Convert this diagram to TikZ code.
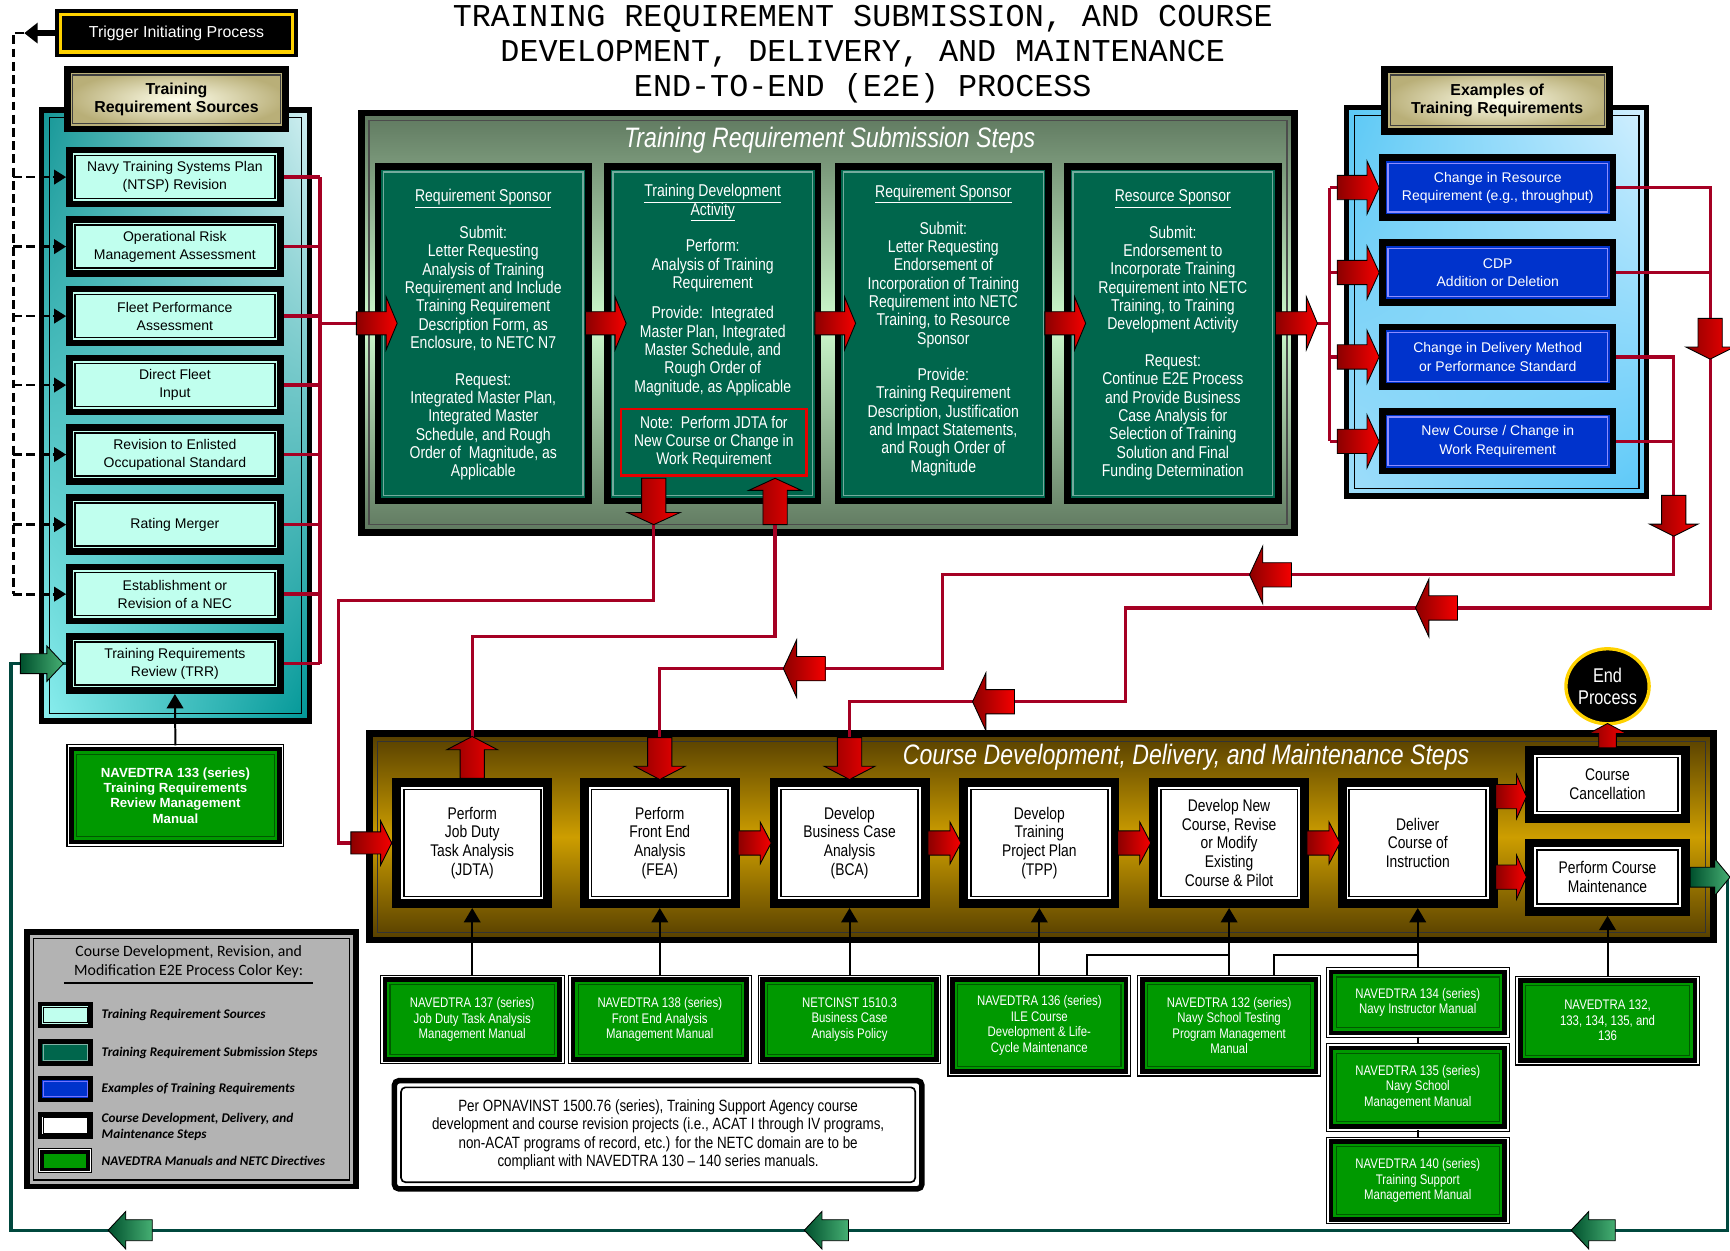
\documentclass[tikz,border=0pt]{standalone}
\usepackage{fontspec}
\usetikzlibrary{shapes.geometric,arrows.meta,calc,shadings}
\newfontfamily\ari{Liberation Sans}
\newfontfamily\nar[FakeStretch=0.82]{Liberation Sans}
\newfontfamily\mono{Liberation Mono}
\newfontfamily\calib{Carlito}
\newcommand\fs[2]{\fontsize{#1}{#2}\selectfont}
\definecolor{srcC}{RGB}{192,255,238}
\definecolor{colG}{RGB}{0,102,76}
\definecolor{blueB}{RGB}{0,51,204}
\definecolor{manG}{RGB}{0,153,0}
\definecolor{redL}{RGB}{165,0,35}
\definecolor{redD}{RGB}{140,0,0}
\definecolor{redB}{RGB}{245,0,0}
\definecolor{grnD}{RGB}{0,80,45}
\definecolor{grnB}{RGB}{70,175,115}
\definecolor{fbG}{RGB}{0,72,62}
\definecolor{creamI}{RGB}{255,255,236}
\definecolor{creamO}{RGB}{185,175,120}
\definecolor{legG}{RGB}{179,179,179}
\definecolor{goldY}{RGB}{255,210,0}
\definecolor{tUL}{RGB}{20,150,150}
\definecolor{tUR}{RGB}{210,240,242}
\definecolor{tLL}{RGB}{140,240,240}
\definecolor{tLR}{RGB}{0,150,150}
\definecolor{bUL}{RGB}{90,200,245}
\definecolor{bUR}{RGB}{212,240,255}
\definecolor{bLL}{RGB}{160,222,250}
\definecolor{bLR}{RGB}{90,200,248}
\definecolor{sgD}{RGB}{95,120,95}
\definecolor{sgL}{RGB}{205,250,205}
\definecolor{gdD}{RGB}{85,62,0}
\definecolor{gdL}{RGB}{205,158,0}
\begin{document}
\begin{tikzpicture}[x=1pt,y=-1pt,
  inl/.style n args={3}{path picture={\draw[#1,line width=#2] ([shift={(#3pt,#3pt)}]path picture bounding box.south west) rectangle ([shift={(-#3pt,-#3pt)}]path picture bounding box.north east);}},
  srcbox/.style={fill=srcC, draw=black, line width=6pt, inl={black}{1.4pt}{5}, minimum width=191pt, minimum height=49pt, inner sep=0pt, align=center, font=\ari\fs{12.7}{16.5}},
  headbox/.style={draw=black, line width=6pt, inner color=creamI, outer color=creamO, inl={black!75}{1pt}{5}, inner sep=0pt, align=center, font=\ari\bfseries\fs{14.4}{17}},
  trig/.style={fill=black, draw=black, line width=2pt, inl={goldY}{3pt}{4}, minimum width=218pt, minimum height=42pt, text=white, font=\ari\fs{14.4}{17}},
  srccont/.style={draw=black, line width=5pt, upper left=tUL, upper right=tUR, lower left=tLL, lower right=tLR, inl={black}{1pt}{7}, minimum width=243pt, minimum height=554pt},
  excont/.style={draw=black, line width=5pt, upper left=bUL, upper right=bUR, lower left=bLL, lower right=bLR, inl={black}{1pt}{7}, minimum width=272pt, minimum height=352pt},
  subcont/.style={draw=black, line width=6pt, top color=sgD, bottom color=sgD, middle color=sgL, inl={black!70}{1.2pt}{7}, minimum width=846pt, minimum height=380pt},
  crcont/.style={draw=black, line width=6pt, top color=gdD, bottom color=gdD, middle color=gdL, inl={black!80}{1.2pt}{7}, minimum width=1218pt, minimum height=187pt},
  colbox/.style={fill=colG, draw=black, line width=6pt, inl={colG!55!white}{1.2pt}{5}, minimum width=191pt, minimum height=303pt},
  coltxt/.style={text=white, align=center, inner sep=0pt, font=\nar\fs{15.5}{16.6}},
  notebox/.style={fill=colG, draw=red!90!black, line width=2pt, minimum width=168pt, minimum height=60pt, inner sep=0pt, text=white, align=center, font=\nar\fs{15.3}{16.3}},
  ttl/.style={text=white, inner sep=0pt, font=\nar\itshape\fs{25.5}{28}},
  bluebox/.style={fill=blueB, draw=black, line width=6pt, inl={blue!45!white}{1.2pt}{5}, minimum width=209pt, minimum height=54pt, inner sep=0pt, text=white, align=center, font=\ari\fs{12.7}{16.5}},
  stepbox/.style={fill=white, draw=black, line width=8pt, inl={black}{1.6pt}{6.5}, inner sep=0pt, align=center, font=\nar\fs{15.3}{17}},
  manbox/.style={fill=manG, draw=black, line width=1pt, double=white, double distance=1.5pt, inner sep=0pt, text=white, align=center, font=\nar\fs{12.6}{14},
    path picture={\draw[black,line width=4pt] ([shift={(3pt,3pt)}]path picture bounding box.south west) rectangle ([shift={(-3pt,-3pt)}]path picture bounding box.north east); \draw[black!65!green,line width=1pt] ([shift={(7.5pt,7.5pt)}]path picture bounding box.south west) rectangle ([shift={(-7.5pt,-7.5pt)}]path picture bounding box.north east);}},
  pnote/.style={fill=white, draw=black, line width=5pt, rounded corners=4pt, inl={black}{1.5pt}{6}, minimum width=478pt, minimum height=98pt, inner sep=0pt, align=center, font=\nar\fs{14.8}{16.7}},
  legbox/.style={fill=legG, draw=black, line width=5pt, inl={black}{1pt}{6}, minimum width=298pt, minimum height=231pt},
  sw/.style={minimum width=46pt, minimum height=20pt, line width=4pt, draw=black, inner sep=0pt},
  legtxt/.style={anchor=west, inner sep=0pt, align=left, font=\calib\bfseries\itshape\fs{12}{14.5}},
  redline/.style={draw=redL, line width=3pt},
  fbline/.style={draw=fbG, line width=3pt},
  dashl/.style={draw=black, line width=2.5pt, dash pattern=on 8pt off 4pt},
  manline/.style={draw=black, line width=1.8pt},
  manarrow/.style={draw=black, line width=1.8pt, -{Triangle[length=13pt,width=15pt]}},
  redfill/.style={left color=redD, right color=redB},
  grnfill/.style={left color=grnD, right color=grnB},
  pics/blk/.style n args={5}{code={\path[#5, draw=black, line width=0.8pt] ({-(#1)/2},{-(#2)}) -- ({(#1)/2-(#4)},{-(#2)}) -- ({(#1)/2-(#4)},{-(#3)}) -- ({(#1)/2},0) -- ({(#1)/2-(#4)},{#3}) -- ({(#1)/2-(#4)},{#2}) -- ({-(#1)/2},{#2}) -- cycle;}}
]
\useasboundingbox (0,0) rectangle (1568,1133);
\fill[white] (0,0) rectangle (1568,1133);

% ---------- title
\node[font=\mono\fs{28.8}{32}, align=center, inner sep=0pt] (title) at (782,49) {TRAINING REQUIREMENT SUBMISSION, AND COURSE\\DEVELOPMENT, DELIVERY, AND MAINTENANCE\\END-TO-END (E2E) PROCESS};

% ---------- trigger
\node[trig] (trig) at (160,30) {Trigger Initiating Process};

% ---------- sources
\node[srccont] (srcc) at (159,376.5) {};
\node[headbox, minimum width=198pt, minimum height=54pt] (srch) at (160,90) {Training\\Requirement Sources};
\node[srcbox] (src1) at (158.5,160.5) {Navy Training Systems Plan\\(NTSP) Revision};
\node[srcbox] (src2) at (158.5,223.5) {Operational Risk\\Management Assessment};
\node[srcbox] (src3) at (158.5,286.5) {Fleet Performance\\Assessment};
\node[srcbox] (src4) at (158.5,349) {Direct Fleet\\Input};
\node[srcbox] (src5) at (158.5,412) {Revision to Enlisted\\Occupational Standard};
\node[srcbox] (src6) at (158.5,475.5) {Rating Merger};
\node[srcbox] (src7) at (158.5,538.5) {Establishment or\\Revision of a NEC};
\node[srcbox] (src8) at (158.5,601.5) {Training Requirements\\Review (TRR)};

% ---------- submission steps
\node[subcont] (subc) at (750.5,292.5) {};
\node[ttl] (subt) at (752,127) {Training Requirement Submission Steps};
\node[colbox] (col1) at (438,302.5) {};
\node[colbox] (col2) at (646,302.5) {};
\node[colbox] (col3) at (855,302.5) {};
\node[colbox] (col4) at (1063,302.5) {};
\node[coltxt] (col1t) at (438,303.5) {\underline{Requirement Sponsor}\\[16.6pt]Submit:\\Letter Requesting\\Analysis of Training\\Requirement and Include\\Training Requirement\\Description Form, as\\Enclosure, to NETC N7\\[16.6pt]Request:\\Integrated Master Plan,\\Integrated Master\\Schedule, and Rough\\Order of~~Magnitude, as\\Applicable};
\node[coltxt] (col2t) at (646,263) {\underline{Training Development}\\\underline{Activity}\\[16.6pt]Perform:\\Analysis of Training\\Requirement\\[11pt]Provide:~~Integrated\\Master Plan, Integrated\\Master Schedule, and\\Rough Order of\\Magnitude, as Applicable};
\node[coltxt] (col3t) at (855,299.5) {\underline{Requirement Sponsor}\\[16.6pt]Submit:\\Letter Requesting\\Endorsement of\\Incorporation of Training\\Requirement into NETC\\Training, to Resource\\Sponsor\\[16.6pt]Provide:\\Training Requirement\\Description, Justification\\and Impact Statements,\\and Rough Order of\\Magnitude};
\node[coltxt] (col4t) at (1063,303.5) {\underline{Resource Sponsor}\\[16.6pt]Submit:\\Endorsement to\\Incorporate Training\\Requirement into NETC\\Training, to Training\\Development Activity\\[16.6pt]Request:\\Continue E2E Process\\and Provide Business\\Case Analysis for\\Selection of Training\\Solution and Final\\Funding Determination};
\node[notebox] (note) at (647,401) {Note:~~Perform JDTA for\\New Course or Change in\\Work Requirement};

% ---------- examples
\node[excont] (exc) at (1356.5,273.5) {};
\node[headbox, minimum width=204pt, minimum height=56pt] (exh) at (1357,91) {Examples of\\Training Requirements};
\node[bluebox] (ex1) at (1357.5,170) {Change in Resource\\Requirement (e.g., throughput)};
\node[bluebox] (ex2) at (1357.5,247) {CDP\\Addition or Deletion};
\node[bluebox] (ex3) at (1357.5,323.5) {Change in Delivery Method\\or Performance Standard};
\node[bluebox] (ex4) at (1357.5,400) {New Course / Change in\\Work Requirement};

% ---------- course steps
\node[crcont] (crc) at (944,758.5) {};
\node[ttl] (crt) at (1075,686) {Course Development, Delivery, and Maintenance Steps};
\node[stepbox, minimum width=137pt, minimum height=110pt] (jdta) at (428,764) {Perform\\Job Duty\\Task Analysis\\(JDTA)};
\node[stepbox, minimum width=137pt, minimum height=110pt] (fea) at (598,764) {Perform\\Front End\\Analysis\\(FEA)};
\node[stepbox, minimum width=137pt, minimum height=110pt] (bca) at (770,764) {Develop\\Business Case\\Analysis\\(BCA)};
\node[stepbox, minimum width=137pt, minimum height=110pt] (tpp) at (942,764) {Develop\\Training\\Project Plan\\(TPP)};
\node[stepbox, minimum width=137pt, minimum height=110pt] (devn) at (1114,764) {Develop New\\Course, Revise\\or Modify\\Existing\\Course \& Pilot};
\node[stepbox, minimum width=137pt, minimum height=110pt] (deliv) at (1285,764) {Deliver\\Course of\\Instruction};
\node[stepbox, minimum width=141pt, minimum height=62pt] (cancel) at (1457,711) {Course\\Cancellation};
\node[stepbox, minimum width=141pt, minimum height=62pt] (maint) at (1457,795) {Perform Course\\Maintenance};
\node[ellipse, fill=black, draw=goldY, line width=3pt, minimum width=74pt, minimum height=68pt, inner sep=0pt, text=white, align=center, font=\nar\fs{18}{20}] (endp) at (1457,622) {End\\Process};

% ---------- manuals
\node[manbox, minimum width=194pt, minimum height=90pt, font=\ari\bfseries\fs{12}{14}] (m133) at (159,721) {NAVEDTRA 133 (series)\\Training Requirements\\Review Management\\Manual};
\node[manbox, minimum width=164pt, minimum height=78pt] (m137) at (428,924) {NAVEDTRA 137 (series)\\Job Duty Task Analysis\\Management Manual};
\node[manbox, minimum width=163pt, minimum height=78pt] (m138) at (598,924) {NAVEDTRA 138 (series)\\Front End Analysis\\Management Manual};
\node[manbox, minimum width=163pt, minimum height=78pt] (netc) at (770,924) {NETCINST 1510.3\\Business Case\\Analysis Policy};
\node[manbox, minimum width=163pt, minimum height=89pt] (m136) at (942,929.5) {NAVEDTRA 136 (series)\\ILE Course\\Development \& Life-\\Cycle Maintenance};
\node[manbox, minimum width=163pt, minimum height=89pt] (m132) at (1114,929.5) {NAVEDTRA 132 (series)\\Navy School Testing\\Program Management\\Manual};
\node[manbox, minimum width=163pt, minimum height=61pt] (m134) at (1285,908.5) {NAVEDTRA 134 (series)\\Navy Instructor Manual};
\node[manbox, minimum width=163pt, minimum height=77pt] (m135) at (1285,985.5) {NAVEDTRA 135 (series)\\Navy School\\Management Manual};
\node[manbox, minimum width=163pt, minimum height=76pt] (m140) at (1285,1070) {NAVEDTRA 140 (series)\\Training Support\\Management Manual};
\node[manbox, minimum width=164pt, minimum height=78pt] (m132b) at (1457,925) {NAVEDTRA 132,\\133, 134, 135, and\\136};

% ---------- policy note
\node[pnote] (pnote) at (596.5,1028.5) {Per OPNAVINST 1500.76 (series), Training Support Agency course\\development and course revision projects (i.e., ACAT I through IV programs,\\non-ACAT programs of record, etc.) for the NETC domain are to be\\compliant with NAVEDTRA 130 – 140 series manuals.};

% ---------- legend
\node[legbox] (leg) at (173.5,960) {};
\node[inner sep=0pt, align=center, font=\calib\fs{14.3}{17}] (legt) at (171,871.5) {Course Development, Revision, and\\Modification E2E Process Color Key:};
\draw[black, line width=1.2pt] (58,891) -- (284,891);
\node[sw, fill=srcC, inl={black}{0.8pt}{3}] (sw1) at (59,920) {};
\node[sw, fill=colG, inl={colG!50!white}{0.8pt}{3}] (sw2) at (59,954) {};
\node[sw, fill=blueB, inl={blue!55!white}{0.8pt}{3}] (sw3) at (59,987) {};
\node[sw, fill=white, inl={black}{0.8pt}{3}] (sw4) at (59,1020) {};
\node[sw, fill=manG, line width=0.8pt, double=white, double distance=1pt, inl={black}{2.5pt}{2.5}] (sw5) at (59,1052) {};
\node[legtxt] (lt1) at (92,920) {Training Requirement Sources};
\node[legtxt] (lt2) at (92,954.5) {Training Requirement Submission Steps};
\node[legtxt] (lt3) at (92,987) {Examples of Training Requirements};
\node[legtxt] (lt4) at (92,1021) {Course Development, Delivery, and\\Maintenance Steps};
\node[legtxt] (lt5) at (92,1052) {NAVEDTRA Manuals and NETC Directives};

% ---------- trigger connectors
\coordinate (dtip) at (22,30);
\coordinate (dtop) at (12,30);
\coordinate (dbot) at (12,538.5);
\draw[line width=5pt, -{Triangle[length=12pt,width=18pt]}] (trig.west) -- (dtip);
\draw[dashl] (dtip) -- (dtop) -- (dbot);
\foreach \i in {1,...,7} {\draw[dashl, -{Triangle[length=11pt,width=13pt]}] (dtop |- src\i.west) -- (src\i.west);}

% ---------- red connectors
\coordinate (sbus) at (290,293);
\foreach \i in {1,...,8} {\draw[redline] (src\i.east) -- (src\i.east -| sbus);}
\draw[redline] (sbus |- src1.east) -- (sbus |- src8.east);
\draw[redline] (sbus) -- (col1.west |- sbus);

\coordinate (ebus) at (1205,293);
\draw[redline] (subc.east |- ebus) -- (ebus);
\draw[redline] (ebus |- ex1.west) -- (ebus |- ex4.west);
\foreach \i in {1,...,4} {\draw[redline] (ebus |- ex\i.west) -- (ex\i.west);}

\coordinate (rA) at (1550,551);
\coordinate (rB) at (1020,551);
\coordinate (rC) at (770,636);
\draw[redline] (ex1.east) -| (rA) -- (rB) |- (rC) -- (bca.north);
\draw[redline] (ex2.east) -- (ex2.east -| rA);
\coordinate (qA) at (1517,521);
\coordinate (qB) at (854,521);
\coordinate (qC) at (598,606);
\draw[redline] (ex3.east) -| (qA) -- (qB) |- (qC) -- (fea.north);
\draw[redline] (ex4.east) -- (ex4.east -| qA);

\coordinate (nd) at (592.5,470);
\coordinate (ndL) at (307,544);
\draw[redline] (nd) |- (ndL) |- (jdta.west);
\coordinate (ju) at (702.5,577);
\coordinate (nu) at (702.5,470);
\draw[redline] (jdta.north) |- (ju) -- (nu);

% ---------- feedback connector
\coordinate (gR) at (1566,1115);
\coordinate (gL) at (10,1115);
\coordinate (gU) at (10,601.5);
\draw[fbline] (maint.east) -| (gR) -- (gL) -- (gU) -- (src8.west);

% ---------- manual connectors
\draw[manarrow] (m133.north) -- (src8.south);
\draw[manarrow] (m137.north) -- (jdta.south);
\draw[manarrow] (m138.north) -- (fea.south);
\draw[manarrow] (netc.north) -- (bca.south);
\draw[manarrow] (m136.north) -- (tpp.south);
\draw[manarrow] (m132.north) -- (devn.south);
\draw[manarrow] (m134.north) -- (deliv.south);
\draw[manarrow] (m132b.north) -- (maint.south);
\coordinate (b1) at (985,866);
\coordinate (b2) at (1155,866);
\draw[manline] (m136.north -| b1) -- (b1) -- (b1 -| devn.south);
\draw[manline] (m132.north -| b2) -- (b2) -- (b2 -| deliv.south);
\draw[manline] (m134.south) -- (m135.north);
\draw[manline] (m135.south) -- (m140.north);

% ---------- block arrows
\pic at (341.5,293) {blk={37}{10.5}{24}{10}{redfill}};
\pic at (549,293) {blk={37}{10.5}{24}{10}{redfill}};
\pic at (757,293) {blk={37}{10.5}{24}{10}{redfill}};
\pic at (965.5,293) {blk={37}{10.5}{24}{10}{redfill}};
\pic at (1175,293) {blk={38}{10.5}{24}{10}{redfill}};
\foreach \y in {170,247,323.5,400} {\pic at (1231,\y) {blk={38}{11}{24}{11}{redfill}};}
\pic[rotate=-90] at (1550,307) {blk={37}{11}{22}{11}{redfill}};
\pic[rotate=-90] at (1517,467.5) {blk={37}{11}{22}{11}{redfill}};
\pic[rotate=180] at (1151.5,521) {blk={38}{11}{26}{12}{redfill}};
\pic[rotate=180] at (1302,551) {blk={38}{11}{26}{12}{redfill}};
\pic[rotate=180] at (729,606) {blk={38}{11}{26}{12}{redfill}};
\pic[rotate=180] at (900.5,636) {blk={38}{11}{26}{12}{redfill}};
\pic[rotate=-90] at (592.5,454.5) {blk={42}{11}{24}{11}{redfill}};
\pic[rotate=90] at (702.5,454.5) {blk={42}{11}{24}{11}{redfill}};
\pic[rotate=90] at (428,686.5) {blk={38}{11}{23}{12}{redfill}};
\pic[rotate=-90] at (598,687.5) {blk={38}{11}{23}{12}{redfill}};
\pic[rotate=-90] at (770,687.5) {blk={38}{11}{23}{12}{redfill}};
\pic at (336.5,764) {blk={37}{10}{20}{10}{redfill}};
\pic at ($(fea.east)!0.5!(bca.west)$) {blk={30}{11}{19}{10}{redfill}};
\pic at ($(bca.east)!0.5!(tpp.west)$) {blk={30}{11}{19}{10}{redfill}};
\pic at ($(tpp.east)!0.5!(devn.west)$) {blk={30}{11}{19}{10}{redfill}};
\pic at ($(devn.east)!0.5!(deliv.west)$) {blk={30}{11}{19}{10}{redfill}};
\pic at (1369.5,722) {blk={28}{11}{20}{9}{redfill}};
\pic at (1369.5,795) {blk={28}{11}{20}{9}{redfill}};
\pic[rotate=90] at ($(cancel.north)!0.5!(endp.south)$) {blk={22}{8}{17}{9}{redfill}};
\pic at (1550,795) {blk={36}{9}{17}{14}{grnfill}};
\pic at (38,601.5) {blk={39}{9}{16}{15}{grnfill}};
\pic[rotate=180] at (118,1115) {blk={40}{9.5}{17}{16}{grnfill}};
\pic[rotate=180] at (749,1115) {blk={40}{9.5}{17}{16}{grnfill}};
\pic[rotate=180] at (1444,1115) {blk={40}{9.5}{17}{16}{grnfill}};
\end{tikzpicture}
\end{document}
